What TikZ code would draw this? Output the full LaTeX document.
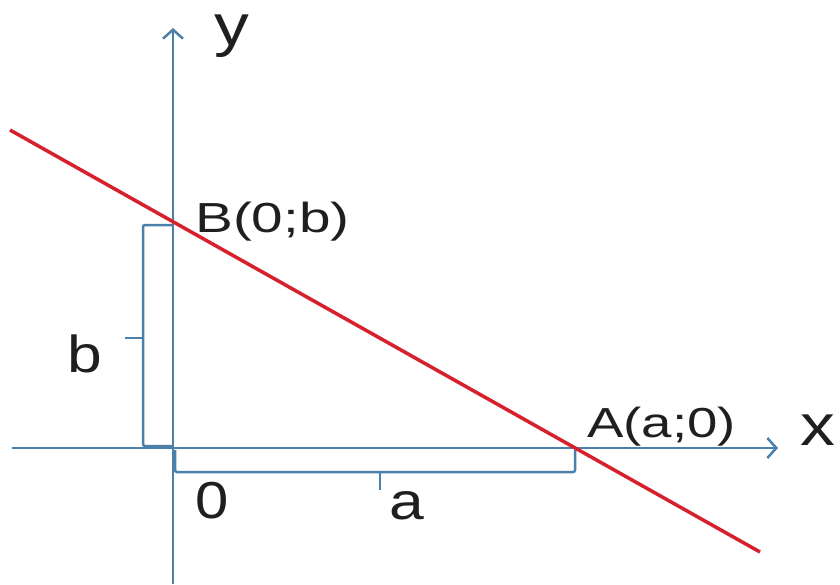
\documentclass[tikz,border=0pt]{standalone}
\usepackage{fontspec}
\setmainfont{Liberation Sans}
\usetikzlibrary{arrows.meta}
\definecolor{axisblue}{RGB}{74,128,170}
\definecolor{linered}{RGB}{214,32,44}
\tikzset{
  axis/.style={draw=axisblue, line width=2.5pt, -{Straight Barb[length=9pt,width=20pt,line width=2.5pt]}},
  brace/.style={draw=axisblue, line width=2.5pt, rounded corners=2pt},
  redline/.style={draw=linered, line width=3.5pt},
  lbl/.style={inner sep=0pt, font=\fontsize{42}{48}\selectfont, text=black!88},
  big/.style={inner sep=0pt, font=\fontsize{58}{64}\selectfont, text=black!88},
  mid/.style={inner sep=0pt, font=\fontsize{52}{58}\selectfont, text=black!88},
}
\begin{document}
\begin{tikzpicture}[x=1pt,y=-1pt]
\useasboundingbox[fill=white] (0,0) rectangle (840,584);
% coordinates
\coordinate (xs) at (12,448);
\coordinate (xe) at (778,448);
\coordinate (ys) at (173,584);
\coordinate (ye) at (173,28);
\coordinate (r1) at (10,130);
\coordinate (r2) at (760,552);
% braces
\coordinate (bt) at (173,225);
\coordinate (bt2) at (143,225);
\coordinate (bb2) at (143,446);
\coordinate (bb) at (173,446);
\coordinate (bm) at (143,338);
\coordinate (bm2) at (125,338);
\coordinate (al) at (175,450);
\coordinate (al2) at (175,472);
\coordinate (ar2) at (575,472);
\coordinate (ar) at (575,450);
\coordinate (am) at (380,472);
\coordinate (am2) at (380,490);
\draw[brace] (bt) -- (bt2) -- (bb2) -- (bb);
\draw[brace] (bm) -- (bm2);
\draw[brace] (al) -- (al2) -- (ar2) -- (ar);
\draw[brace] (am) -- (am2);
% axes
\draw[axis] (xs) -- (xe);
\draw[axis] (ys) -- (ye);
% red line
\draw[redline] (r1) -- (r2);
% labels
\node[lbl, anchor=west] (B) at (195,222) {\scalebox{1.35}[1]{B(0;b)}};
\node[lbl, anchor=west] (A) at (587,427) {\scalebox{1.3}[1]{A(a;0)}};
\node[big, anchor=base] (X) at (818,445) {\scalebox{1.2}[1]{x}};
\node[big, anchor=base] (Y) at (232,45) {\scalebox{1.2}[1]{y}};
\node[mid, anchor=base] (b) at (85,372) {\scalebox{1.2}[1]{b}};
\node[mid, anchor=base] (zero) at (212,518) {\scalebox{1.15}[1]{0}};
\node[mid, anchor=base] (a) at (407,519) {\scalebox{1.2}[1]{a}};
\end{tikzpicture}
\end{document}
